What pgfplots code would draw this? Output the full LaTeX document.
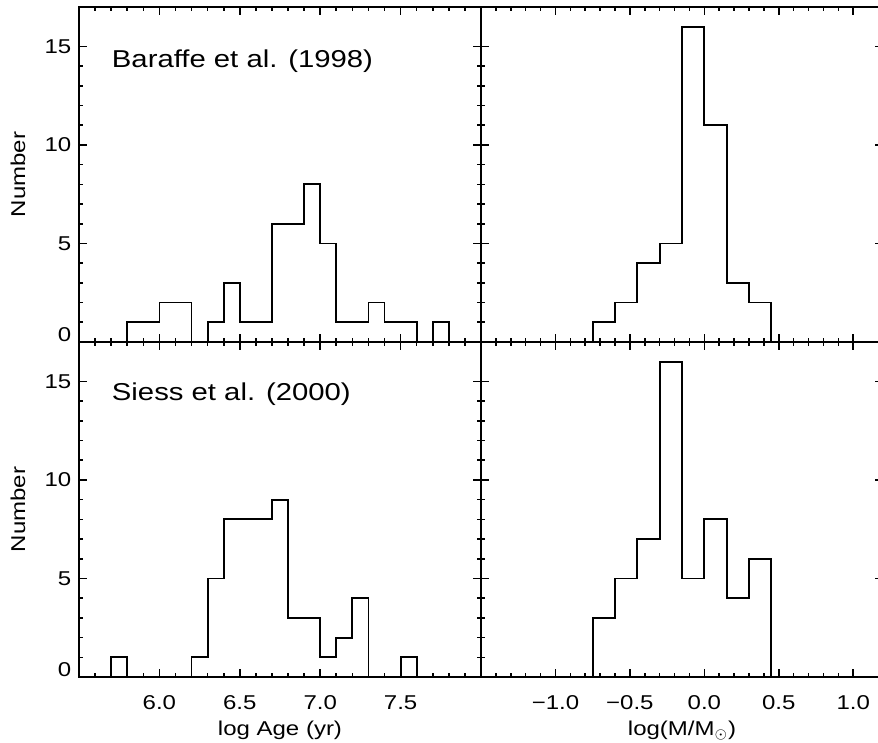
\documentclass[border=0pt]{standalone}
\usepackage{fontspec}
\setmainfont{Liberation Sans}[FakeStretch=1.2]
\usepackage{pgfplots}
\pgfplotsset{compat=1.18}
\usepgfplotslibrary{groupplots}
\tikzset{annot/.style={anchor=west, inner sep=0pt, font=\fontsize{12.2}{15}\selectfont}}

\begin{document}
\begin{tikzpicture}
\begin{groupplot}[
  group style={group size=2 by 2, horizontal sep=0pt, vertical sep=0pt, group name=group},
  scale only axis, width=201pt, height=167.5pt,
  ymin=0, ymax=17,
  ytick={0,5,10,15}, minor y tick num=4,
  minor x tick num=4,
  major tick length=4.2pt, minor tick length=2.1pt,
  tick align=inside, tick pos=both,
  axis line style={line width=1pt},
  every tick/.style={black, line width=0.8pt},
  xticklabel style={anchor=base, yshift=-16.2pt, inner sep=0pt},
  yticklabel style={anchor=east, inner sep=0pt, xshift=-3.7pt},
  every axis y label/.style={at={(axis description cs:-0.152,0.5)}, rotate=90, anchor=center},
  every axis x label/.style={at={(axis description cs:0.5,0)}, anchor=base, yshift=-29.2pt},
  histo/.style={const plot mark left, black, line width=0.9pt, mark=none},
]
% top-left
\nextgroupplot[xmin=5.5, xmax=8, xtick={5.5,6,6.5,7,7.5,8}, xticklabels={},
  yticklabels={\raisebox{3.5pt}[\height][0pt]{0},5,10,15}, ylabel={Number}]
\addplot[histo] coordinates {(5.5,0)(5.8,1)(5.9,1)(6.0,2)(6.1,2)(6.2,0)(6.3,1)(6.4,3)(6.5,1)(6.6,1)(6.7,6)(6.8,6)(6.9,8)(7.0,5)(7.1,1)(7.2,1)(7.3,2)(7.4,1)(7.5,1)(7.6,0)(7.7,1)(7.8,0)};
\node[annot] at (rel axis cs:0.081,0.838) {Baraffe et al. (1998)};
% top-right
\nextgroupplot[xmin=-1.5, xmax=1.2, xtick={-1.5,-1,-0.5,0,0.5,1}, xticklabels={}, yticklabels={}]
\addplot[histo] coordinates {(-1.5,0)(-0.75,1)(-0.6,2)(-0.45,4)(-0.3,5)(-0.15,16)(0,11)(0.15,3)(0.3,2)(0.45,0)};
% bottom-left
\nextgroupplot[xmin=5.5, xmax=8, xtick={5.5,6,6.5,7,7.5,8}, xticklabels={{},6.0,6.5,7.0,7.5,{}},
  yticklabels={\raisebox{3.5pt}[\height][0pt]{0},5,10,15}, ylabel={Number}, xlabel={log Age (yr)}]
\addplot[histo] coordinates {(5.5,0)(5.7,1)(5.8,0)(6.2,1)(6.3,5)(6.4,8)(6.5,8)(6.6,8)(6.7,9)(6.8,3)(6.9,3)(7.0,1)(7.1,2)(7.2,4)(7.3,0)(7.5,1)(7.6,0)};
\node[annot] at (rel axis cs:0.081,0.845) {Siess et al. (2000)};
% bottom-right
\nextgroupplot[xmin=-1.5, xmax=1.2, xtick={-1.5,-1,-0.5,0,0.5,1}, xticklabels={{},−1.0,−0.5,0.0,0.5,1.0},
  yticklabels={}, xlabel={log(M/M$_{\scriptstyle\odot}$)}]
\addplot[histo] coordinates {(-1.5,0)(-0.75,3)(-0.6,5)(-0.45,7)(-0.3,16)(-0.15,5)(0,8)(0.15,4)(0.3,6)(0.45,0)};
\end{groupplot}
\pgfresetboundingbox
\path ([xshift=-39.5pt,yshift=-32.7pt]group c1r2.south west) rectangle ([xshift=-2.5pt,yshift=3.5pt]group c2r1.north east);
\end{tikzpicture}
\end{document}
